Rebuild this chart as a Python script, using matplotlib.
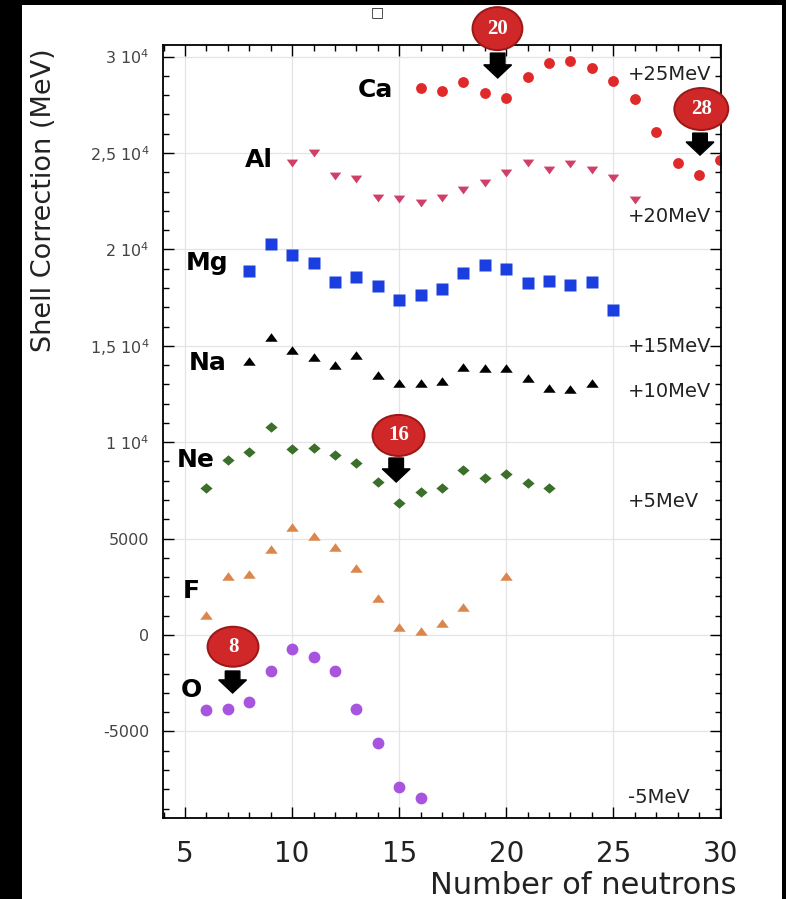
import matplotlib
matplotlib.use("Agg")
import matplotlib.pyplot as plt
from matplotlib.patches import Rectangle, Ellipse, FancyArrow
from matplotlib.ticker import MultipleLocator, FixedLocator, FixedFormatter

# Shell-correction values per isotope chain (neutron number -> value)
ca_n = [16, 17, 18, 19, 20, 21, 22, 23, 24, 25, 26, 27, 28, 29, 30]
ca_v = [28380, 28230, 28700, 28120, 27860, 28950, 29650, 29770, 29390, 28730,
        27780, 26100, 24460, 23860, 24630]

al_n = [10, 11, 12, 13, 14, 15, 16, 17, 18, 19, 20, 21, 22, 23, 24, 25, 26]
al_v = [24490, 24980, 23800, 23630, 22650, 22610, 22430, 22660, 23080, 23430,
        23980, 24490, 24120, 24430, 24120, 23720, 22560]

mg_n = [8, 9, 10, 11, 12, 13, 14, 15, 16, 17, 18, 19, 20, 21, 22, 23, 24, 25]
mg_v = [18890, 20280, 19710, 19310, 18320, 18580, 18100, 17370, 17610, 17950,
        18760, 19190, 18970, 18270, 18360, 18150, 18320, 16880]

na_n = [8, 9, 10, 11, 12, 13, 14, 15, 16, 17, 18, 19, 20, 21, 22, 23, 24]
na_v = [14210, 15470, 14780, 14430, 14000, 14520, 13480, 13050, 13080, 13170,
        13910, 13830, 13830, 13340, 12790, 12740, 13050]

ne_n = [6, 7, 8, 9, 10, 11, 12, 13, 14, 15, 16, 17, 18, 19, 20, 21, 22]
ne_v = [7610, 9080, 9510, 10800, 9650, 9710, 9340, 8900, 7950, 6860,
        7400, 7610, 8560, 8140, 8330, 7900, 7610]

f_n = [6, 7, 8, 9, 10, 11, 12, 13, 14, 15, 16, 17, 18, 20]
f_v = [1040, 3060, 3160, 4440, 5620, 5130, 4580, 3490, 1930, 430,
       210, 610, 1430, 3060]

o_n = [6, 7, 8, 9, 10, 11, 12, 13, 14, 15, 16]
o_v = [-3890, -3850, -3460, -1850, -730, -1130, -1850, -3850, -5620, -7900, -8470]

element_names = ["Ca", "Al", "Mg", "Na", "Ne", "F", "O"]
offset_labels = ["+25MeV", "+20MeV", "+15MeV", "+10MeV", "+5MeV", "-5MeV"]
magic_numbers = ["20", "28", "16", "8"]

y_ticks = [-5000, 0, 5000, 10000, 15000, 20000, 25000, 30000]
y_ticklabels = ["-5000", "0", "5000", "1 10$^{4}$", "1,5 10$^{4}$",
                "2 10$^{4}$", "2,5 10$^{4}$", "3 10$^{4}$"]
x_ticks = [5, 10, 15, 20, 25, 30]

plt.rcParams["font.family"] = ["DejaVu Sans"]
plt.rcParams["mathtext.default"] = "regular"

W, H = 786, 899
fig = plt.figure(figsize=(W / 100, H / 100), dpi=100)
fig.patch.set_facecolor("black")
fig.add_artist(Rectangle((22 / W, 0), (782 - 22) / W, (H - 5) / H,
                         transform=fig.transFigure, facecolor="white",
                         edgecolor="none", zorder=-10))
fig.text(377 / W, 1 - 12 / H, "\u25a1", fontsize=10, ha="center", va="center",
         color="#222222")

ax = fig.add_axes([163 / W, 1 - 818 / H, (721 - 163) / W, (818 - 45) / H])
ax.set_xlim(3.97, 30.03)
ax.set_ylim(-9490, 30600)

# grid
ax.set_axisbelow(True)
ax.grid(True, which="major", color="#e4e4e4", lw=0.9)

ax.xaxis.set_major_locator(FixedLocator(x_ticks))
ax.xaxis.set_minor_locator(MultipleLocator(1))
ax.yaxis.set_major_locator(FixedLocator(y_ticks))
ax.yaxis.set_major_formatter(FixedFormatter(y_ticklabels))
ax.yaxis.set_minor_locator(MultipleLocator(1000))
ax.tick_params(which="both", direction="in", top=True, right=True,
               color="black", width=1.0)
ax.tick_params(which="major", length=8)
ax.tick_params(which="minor", length=4)
ax.tick_params(axis="x", which="major", labelsize=20, pad=16, labelcolor="#222222")
ax.tick_params(axis="y", which="major", labelsize=11.5, pad=10, labelcolor="#444444")
for s in ax.spines.values():
    s.set_linewidth(1.3)
    s.set_color("black")

# custom marker shapes (slightly wider than tall)
tri_up = [(-1, -0.68), (1, -0.68), (0, 0.68), (-1, -0.68)]
tri_dn = [(-1, 0.68), (1, 0.68), (0, -0.68), (-1, 0.68)]
diamond = [(-1, 0), (0, 0.85), (1, 0), (0, -0.85), (-1, 0)]

ax.plot(ca_n, ca_v, ls="none", marker="o", ms=7.8, color="#e02a2a", mec="none")
ax.plot(al_n, al_v, ls="none", marker=tri_dn, ms=8.3, color="#cf3f68", mec="none")
ax.plot(mg_n, mg_v, ls="none", marker="s", ms=9, color="#1a3ee0", mec="none")
ax.plot(na_n, na_v, ls="none", marker=tri_up, ms=9, color="black", mec="none")
ax.plot(ne_n, ne_v, ls="none", marker=diamond, ms=8.8, color="#3b6f2b", mec="none")
ax.plot(f_n, f_v, ls="none", marker=tri_up, ms=9, color="#db874c", mec="none")
ax.plot(o_n, o_v, ls="none", marker="o", ms=8.5, color="#a755de", mec="none")

# element names
name_pos = [(13.89, 27900), (8.45, 24270), (6.05, 18930), (6.07, 13740),
            (5.51, 8710), (5.30, 1920), (5.28, -3215)]
for name, (x, y) in zip(element_names, name_pos):
    ax.text(x, y, name, fontsize=18, fontweight="bold", ha="center",
            va="baseline", color="black")

# energy offsets on the right
off_y = [28780, 21420, 14680, 12340, 6640, -8710]
for lab, y in zip(offset_labels, off_y):
    ax.text(25.70, y, lab, fontsize=14, ha="left", va="baseline", color="#222222")

# magic-number markers: red bubble with arrow
bubbles = [(19.59, 31450, 2.33, 2230), (29.11, 27280, 2.52, 2180),
           (14.97, 10350, 2.43, 2130), (7.24, -607, 2.38, 2075)]
arrows = [(19.60, 30180, 28890), (29.05, 26030, 24890),
          (14.86, 9180, 7935), (7.22, -1867, -3008)]
for num, (bx, by, bw, bh), (axx, y0, y1) in zip(magic_numbers, bubbles, arrows):
    ax.add_patch(Ellipse((bx, by), bw, bh, facecolor="#d02828",
                         edgecolor="#9a1818", lw=1.4, clip_on=False, zorder=5))
    ax.text(bx, by, num, fontsize=15, fontweight="bold", color="white",
            family="Liberation Serif", ha="center", va="center",
            zorder=6, clip_on=False)
    ax.add_patch(FancyArrow(axx, y0, 0, y1 - y0, width=0.68, head_width=1.3,
                            head_length=680, length_includes_head=True,
                            facecolor="black", edgecolor="black",
                            clip_on=False, zorder=6))

fig.text(44 / W, 1 - 200 / H, "Shell Correction (MeV)", rotation=90,
         fontsize=19.5, ha="center", va="center", color="#222222")
fig.text(736 / W, 1 - 885 / H, "Number of neutrons", fontsize=22,
         ha="right", va="center", color="#222222")

fig.savefig("out.png", dpi=100, facecolor=fig.get_facecolor())
